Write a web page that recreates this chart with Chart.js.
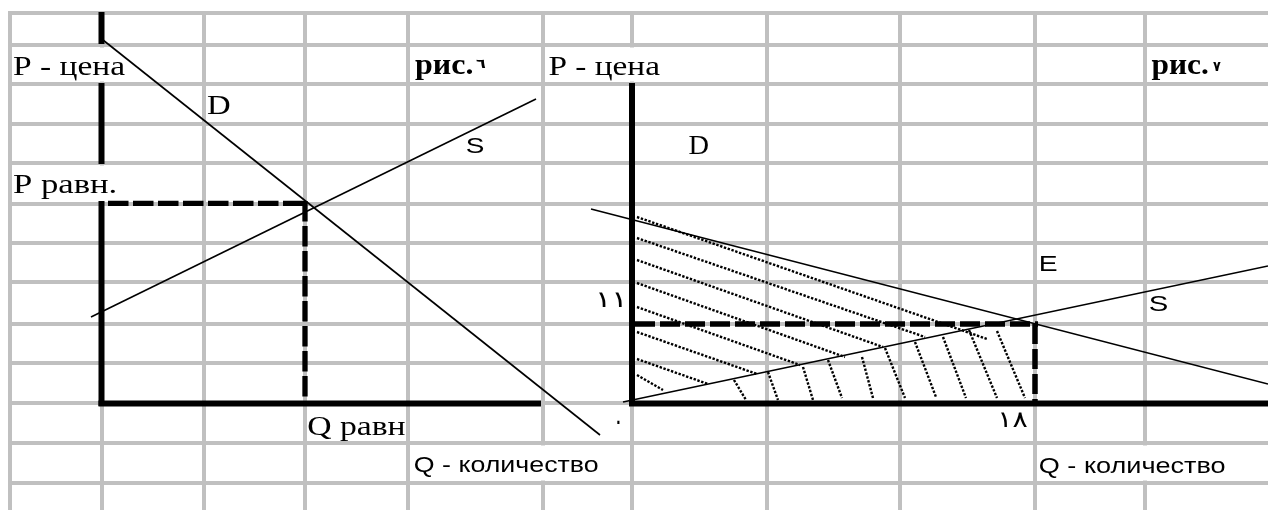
<!DOCTYPE html>
<html lang="ru">
<head>
<meta charset="utf-8">
<title>рис.٦ / рис.٧</title>
<script src="https://cdn.jsdelivr.net/npm/chart.js@4.4.1/dist/chart.umd.min.js"></script>
<style>
html,body{margin:0;padding:0;background:#ffffff;overflow:hidden;}
canvas{display:block;}
</style>
</head>
<body>
<canvas id="sheet" width="1268" height="510"></canvas>
<script>
// ---- worksheet grid (sheet units: across, down) ----
const gridColumns = [10, 102, 204, 305, 408, 543, 632, 767, 900, 1035, 1145];
const gridRows = [13, 45, 84, 124, 163, 204, 243, 282, 324, 363, 403, 443, 483];
// cells whose text overflows into the neighbour cell (hides the gridline between)
const overflowCells = [
  [10, 204, 45, 84],
  [10, 204, 163, 204],
  [543, 767, 45, 84],
  [408, 632, 443, 483],
  [1035, 1280, 443, 483]
];

// ---- figure 6 ----
const fig6Axes = [
  [[101.5, 12], [101.5, 44]],
  [[101.5, 83], [101.5, 164]],
  [[101.5, 201], [101.5, 406]],
  [[98.5, 403.5], [541, 403.5]]
];
const fig6Demand = [[103, 40], [600, 435]];
const fig6Supply = [[91, 317], [536, 99]];
const fig6Equilibrium = [
  [[108, 203.3], [307, 203.3]],
  [[305, 201], [305, 401]]
];

// ---- figure 7 ----
const fig7Axes = [
  [[632, 83], [632, 406]],
  [[629, 403.5], [1268, 403.5]]
];
const fig7Demand = [[591, 209], [1268, 384]];
const fig7Supply = [[623, 402], [1268, 266]];
const fig7Equilibrium = [
  [[635, 324], [1038, 324]],
  [[1035, 324], [1035, 401]]
];
const fig7HatchUpper = [
  [[637, 217], [987, 339]],
  [[637, 238], [925, 337]],
  [[637, 260], [883, 347]],
  [[637, 283], [845, 357]],
  [[637, 307], [800, 365]],
  [[637, 332], [757, 374]],
  [[637, 359], [708, 384]],
  [[637, 375], [663, 390]]
];
const fig7HatchLower = [
  [[734, 380], [746, 400]],
  [[768, 372], [778, 400]],
  [[803, 367], [813, 400]],
  [[828, 360], [842, 398]],
  [[862, 357], [873, 398]],
  [[885, 348], [905, 398]],
  [[915, 342], [936, 397]],
  [[943, 337], [966, 398]],
  [[969, 330], [997, 398]],
  [[997, 331], [1025, 398]]
];

// ---- texts ----
const labelTexts = [
  'P - цена', 'P равн.', 'D', 'рис.', '٦', 'S', 'Q равн', 'Q - количество', '٠',
  'P - цена', 'D', 'рис.', '٧', '١١', 'E', 'S', '١٨', 'Q - количество'
];
const SERIF = '"Liberation Serif", "Times New Roman", serif';
const SANS = '"Liberation Sans", Arial, sans-serif';
const ARAB = '"DejaVu Sans", "Noto Sans", sans-serif';
// placement: ink left x, ink width, baseline; or ink box (top, h) for the small digits
const labelLayout = [
  {x: 13, w: 112, base: 74.5, font: '27px ' + SERIF},
  {x: 13, w: 102, base: 192.5, font: '27px ' + SERIF},
  {x: 207, w: 23, base: 113.5, font: '27px ' + SERIF},
  {x: 415, w: 57, base: 73.5, font: 'bold 29px ' + SERIF},
  {x: 476, top: 59, w: 10, h: 9, font: 'bold 16px ' + ARAB},
  {x: 467, w: 16.5, base: 152.5, font: '22px ' + SANS},
  {x: 308.5, w: 96.5, base: 434.5, font: '27px ' + SERIF},
  {x: 415, w: 183, base: 472, font: '22.5px ' + SANS},
  {x: 617, top: 421, w: 3, h: 4, font: '20px ' + ARAB},
  {x: 548.5, w: 111.5, base: 74.5, font: '27px ' + SERIF},
  {x: 688.5, w: 20, base: 153.5, font: '27px ' + SERIF},
  {x: 1151.5, w: 56, base: 74, font: 'bold 29px ' + SERIF},
  {x: 1213, top: 62, w: 8, h: 9, font: 'bold 16px ' + ARAB},
  {x: 598, top: 292, w: 24, h: 15, font: '20px ' + ARAB},
  {x: 1040, w: 16.7, base: 271, font: '22px ' + SANS},
  {x: 1150, w: 17.3, base: 311, font: '22px ' + SANS},
  {x: 1000, top: 412, w: 28, h: 15, font: '20px ' + ARAB},
  {x: 1040, w: 185, base: 472.5, font: '22.5px ' + SANS}
];

function toPoints(seg) { return seg.map(p => ({x: p[0], y: p[1]})); }
function lineSet(seg, width, dash, cap) {
  return {
    data: toPoints(seg), showLine: true, pointRadius: 0, pointHoverRadius: 0,
    borderColor: '#000000', backgroundColor: '#000000', borderWidth: width,
    borderDash: dash || [], borderCapStyle: cap || 'butt', fill: false, tension: 0
  };
}

const datasets = [];
fig7HatchUpper.concat(fig7HatchLower).forEach(s => datasets.push(lineSet(s, 2.4, [2.4, 1.6])));
[fig6Demand, fig6Supply, fig7Demand, fig7Supply].forEach(s => datasets.push(lineSet(s, 1.6)));
fig6Equilibrium.forEach(s => datasets.push(lineSet(s, 5.3, [20.5, 4.5])));
fig7Equilibrium.forEach(s => datasets.push(lineSet(s, 5.5, [20, 5])));
fig6Axes.concat(fig7Axes).forEach(s => datasets.push(lineSet(s, 6)));

const sheetPlugin = {
  id: 'sheetPlugin',
  beforeDatasetsDraw(chart) {
    const ctx = chart.ctx, xs = chart.scales.x, ys = chart.scales.y;
    ctx.save();
    ctx.fillStyle = '#ffffff';
    overflowCells.forEach(c => {
      const x0 = xs.getPixelForValue(c[0]) + 2.5, x1 = xs.getPixelForValue(c[1]) - 2.5;
      const y0 = ys.getPixelForValue(c[2]) + 2.5, y1 = ys.getPixelForValue(c[3]) - 2.5;
      ctx.fillRect(x0, y0, x1 - x0, y1 - y0);
    });
    ctx.restore();
  },
  afterDatasetsDraw(chart) {
    const ctx = chart.ctx, xs = chart.scales.x, ys = chart.scales.y;
    labelTexts.forEach((t, i) => {
      const L = labelLayout[i];
      ctx.save();
      ctx.font = L.font;
      ctx.textAlign = 'left';
      ctx.textBaseline = 'alphabetic';
      ctx.fillStyle = '#000000';
      const m = ctx.measureText(t);
      const inkW = m.actualBoundingBoxLeft + m.actualBoundingBoxRight;
      const px = xs.getPixelForValue(L.x);
      let sy = 1, baseY;
      if (L.base !== undefined) {
        baseY = ys.getPixelForValue(L.base);
      } else {
        const pTop = ys.getPixelForValue(L.top);
        const inkH = m.actualBoundingBoxAscent + m.actualBoundingBoxDescent;
        sy = (ys.getPixelForValue(L.top + L.h) - pTop) / inkH;
        baseY = pTop + m.actualBoundingBoxAscent * sy;
      }
      const sx = (xs.getPixelForValue(L.x + L.w) - px) / inkW;
      ctx.translate(px, baseY);
      ctx.scale(sx, sy);
      ctx.fillText(t, m.actualBoundingBoxLeft, 0);
      ctx.restore();
    });
  }
};

new Chart(document.getElementById('sheet'), {
  type: 'scatter',
  data: {datasets: datasets},
  options: {
    responsive: false,
    animation: false,
    events: [],
    layout: {padding: {left: 8, top: 12, right: 0, bottom: 0}},
    plugins: {legend: {display: false}, tooltip: {enabled: false}},
    scales: {
      x: {
        type: 'linear', min: 8, max: 1268,
        ticks: {display: false},
        border: {display: false},
        grid: {color: '#c0c0c0', lineWidth: 4, drawTicks: false},
        afterBuildTicks: axis => { axis.ticks = gridColumns.map(v => ({value: v})); }
      },
      y: {
        type: 'linear', min: 12, max: 510, reverse: true,
        ticks: {display: false},
        border: {display: false},
        grid: {color: '#c0c0c0', lineWidth: 4, drawTicks: false},
        afterBuildTicks: axis => { axis.ticks = gridRows.map(v => ({value: v})); }
      }
    }
  },
  plugins: [sheetPlugin]
});
</script>
</body>
</html>
